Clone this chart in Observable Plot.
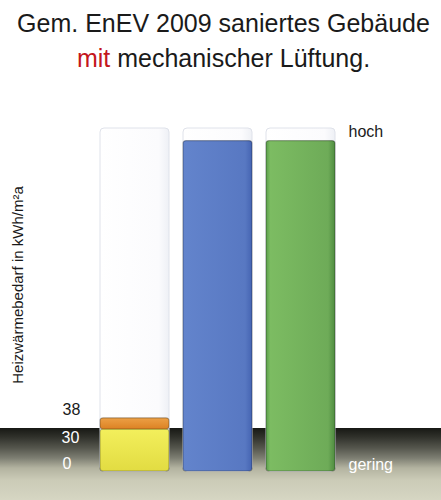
<!DOCTYPE html>
<html><head><meta charset="utf-8">
<script src="https://cdn.jsdelivr.net/npm/d3@7"></script>
<script src="https://cdn.jsdelivr.net/npm/@observablehq/plot@0.6"></script>
<style>
html,body{margin:0;padding:0;background:#fff;}
#wrap{width:441px;height:500px;position:relative;overflow:hidden;
background:linear-gradient(to bottom,#fff 0,#fff 428px,#171814 428px,#30312b 437px,#55564d 448px,#7d7e72 458px,#b3b3a0 468px,#cbcbb7 480px,#d6d6c3 500px);}
#title{height:80px;box-sizing:border-box;padding-top:6px;padding-left:6px;text-align:center;font-family:"Liberation Sans",Arial,sans-serif;font-size:25px;line-height:35px;color:#1a1a1a;}
#title .red{color:#c4161c;}
#chart svg{display:block;}
</style></head><body>
<div id="wrap"><div id="title">Gem. EnEV 2009 saniertes Gebäude<br><span class="red">mit</span> mechanischer Lüftung.</div><div id="chart"></div></div>
<script>
const categories = ["Gebäude A", "Gebäude B", "Gebäude C"];
const ghostValues = [245, 245, 245];
const barCategory = ["Gebäude A", "Gebäude A", "Gebäude B", "Gebäude C"];
const barSeries = ["Heizwärme", "Zuschlag", "Variante blau", "Variante grün"];
const barValues = [30, 8, 236, 236];
const tickValues = [0, 30, 38];
const scaleLabels = ["gering", "hoch"];
const scaleLabelValues = [0, 245];
const axisTitle = "Heizwärmebedarf in kWh/m²a";

const ghost = categories.map((c, i) => ({cat: c, value: ghostValues[i]}));
const bars = barCategory.map((c, i) => ({cat: c, series: barSeries[i], value: barValues[i]}));
const scaleText = scaleLabels.map((t, i) => ({text: t, value: scaleLabelValues[i]}));

const font = "Liberation Sans, Arial, sans-serif";

const chart = Plot.plot({
  width: 441,
  height: 420,
  marginTop: 48,
  marginBottom: 29,
  marginLeft: 93,
  marginRight: 99,
  style: {background: "transparent", fontFamily: font, overflow: "visible"},
  x: {domain: categories, paddingInner: 0.17, paddingOuter: 0.085, axis: null},
  y: {domain: [0, 245], axis: null},
  color: {domain: barSeries, range: ["url(#gYellow)", "url(#gOrange)", "url(#gBlue)", "url(#gGreen)"]},
  marks: [
    Plot.barY(ghost, {x: "cat", y: "value", fill: "url(#gGhost)", stroke: "#dfe2ea", strokeWidth: 1, rx: 4}),
    Plot.barY(bars, {x: "cat", y: "value", fill: "series", stroke: "rgba(0,0,0,0.28)", strokeWidth: 1.2, rx: 3}),
    Plot.text([axisTitle], {frameAnchor: "left", textAnchor: "middle", lineAnchor: "middle", rotate: -90, dx: -75, dy: -15, fontSize: 15, fill: "#1a1a1a"}),
    Plot.text(tickValues.filter(v => v === 38), {y: d => d, text: d => String(d), frameAnchor: "left", dx: -31, dy: -8, textAnchor: "start", fontSize: 16, fill: "#1a1a1a"}),
    Plot.text(tickValues.filter(v => v === 0), {y: d => d, text: d => String(d), frameAnchor: "left", dx: -31, dy: -8, textAnchor: "start", fontSize: 16, fill: "#ffffff"}),
    Plot.text(tickValues.filter(v => v === 30), {y: d => d, text: d => String(d), frameAnchor: "left", dx: -32, dy: 8, textAnchor: "start", fontSize: 16, fill: "#ffffff"}),
    Plot.text(scaleText.filter(d => d.text === "hoch"), {y: "value", text: "text", frameAnchor: "right", dx: 6, dy: 3, textAnchor: "start", fontSize: 16, fill: "#1a1a1a"}),
    Plot.text(scaleText.filter(d => d.text === "gering"), {y: "value", text: "text", frameAnchor: "right", dx: 6, dy: -7, textAnchor: "start", fontSize: 16, fill: "#ffffff"})
  ]
});

const defs = d3.select(chart).insert("defs", ":first-child");
function grad(id, stops, horizontal) {
  const g = defs.append("linearGradient").attr("id", id)
    .attr("x1", 0).attr("y1", 0).attr("x2", horizontal ? 1 : 0).attr("y2", horizontal ? 0 : 1);
  stops.forEach(([o, c]) => g.append("stop").attr("offset", o).attr("stop-color", c));
}
grad("gGhost", [[0, "#ffffff"], [0.85, "#fbfbfd"], [1, "#eef0f5"]], true);
grad("gYellow", [[0, "#f3ef5c"], [1, "#e2dc42"]], false);
grad("gOrange", [[0, "#eca046"], [1, "#dc8223"]], false);
grad("gBlue", [[0, "#6384cc"], [0.9, "#5878c2"], [1, "#4564b2"]], true);
grad("gGreen", [[0, "#5a9e4a"], [0.06, "#7cbc62"], [0.9, "#6eab58"], [1, "#4f8c40"]], true);

document.getElementById("chart").appendChild(chart);
</script>
</body></html>
